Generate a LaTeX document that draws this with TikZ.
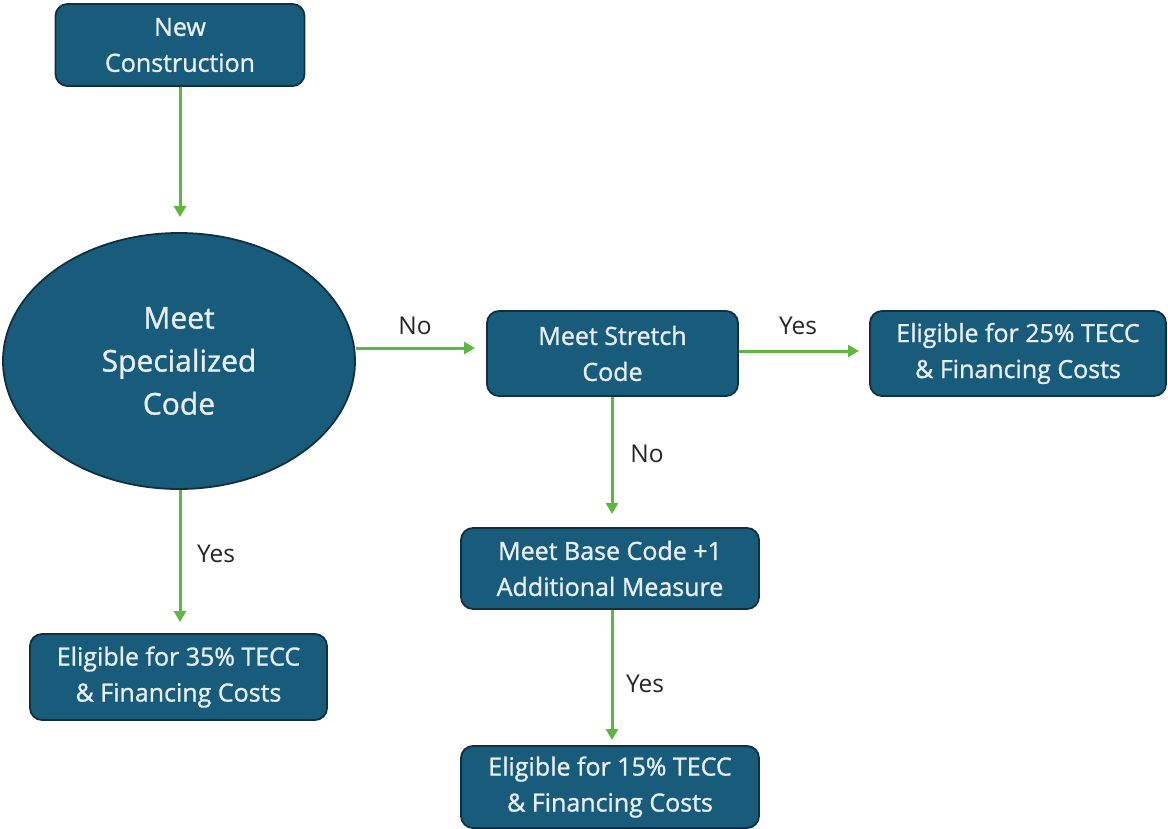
\documentclass[tikz,border=0pt]{standalone}
\usepackage{fontspec}
\setmainfont{Open Sans}
\newfontfamily\boxfont[FakeBold=1.2]{Open Sans}
\usetikzlibrary{shapes.geometric,arrows.meta}
\definecolor{boxfill}{HTML}{195B7B}
\definecolor{boxline}{HTML}{10303F}
\definecolor{arrowgreen}{HTML}{5DB83F}
\definecolor{boxtext}{HTML}{E6EEF1}
\tikzset{
  stepbox/.style={draw=boxline, line width=1.8pt, fill=boxfill, rounded corners=12pt,
    text=boxtext, font=\boxfont\fontsize{25}{36}\selectfont, align=center, inner sep=0pt},
  decision/.style={ellipse, draw=boxline, line width=1.8pt, fill=boxfill,
    text=boxtext, font=\boxfont\fontsize{30}{43}\selectfont, align=center, inner sep=0pt},
  flow/.style={draw=arrowgreen, line width=3pt, -{Triangle[width=12pt,length=11pt]}},
  lbl/.style={font=\fontsize{24.5}{28}\selectfont, text=black!85}
}
\begin{document}
\begin{tikzpicture}[x=1pt,y=-1pt]
\useasboundingbox (0,0) rectangle (1168,829);
\node[stepbox, minimum width=249pt, minimum height=82pt] (nc) at (180,45) {New\\Construction};
\node[decision, minimum width=352pt, minimum height=256pt] (spec) at (179,361) {Meet\\Specialized\\Code};
\node[stepbox, minimum width=251pt, minimum height=85pt] (stretch) at (612.5,353.5) {Meet Stretch\\Code};
\node[stepbox, minimum width=296pt, minimum height=85pt] (e25) at (1018,353.5) {Eligible for 25\% TECC\\\& Financing Costs};
\node[stepbox, minimum width=298pt, minimum height=81pt] (base) at (610,568.5) {Meet Base Code +1\\Additional Measure};
\node[stepbox, minimum width=298pt, minimum height=82pt] (e15) at (610,787) {Eligible for 15\% TECC\\\& Financing Costs};
\node[stepbox, minimum width=297pt, minimum height=86pt] (e35) at (178.5,677) {Eligible for 35\% TECC\\\& Financing Costs};
\coordinate (t1) at (180,217);
\coordinate (t2) at (475,348);
\coordinate (t3) at (859,351);
\coordinate (t4) at (612,514);
\coordinate (t5) at (612,740);
\coordinate (t6) at (180,622);
\draw[flow] (nc.south -| t1) -- (t1);
\draw[flow] (spec.east |- t2) -- (t2);
\draw[flow] (stretch.east |- t3) -- (t3);
\draw[flow] (stretch.south -| t4) -- (t4);
\draw[flow] (base.south -| t5) -- (t5);
\draw[flow] (spec.south -| t6) -- (t6);
\node[lbl] (lno1) at (415,326) {No};
\node[lbl] (lyes1) at (798,326) {Yes};
\node[lbl] (lno2) at (647,454) {No};
\node[lbl] (lyes2) at (645,684) {Yes};
\node[lbl] (lyes3) at (216,554) {Yes};
\end{tikzpicture}
\end{document}
